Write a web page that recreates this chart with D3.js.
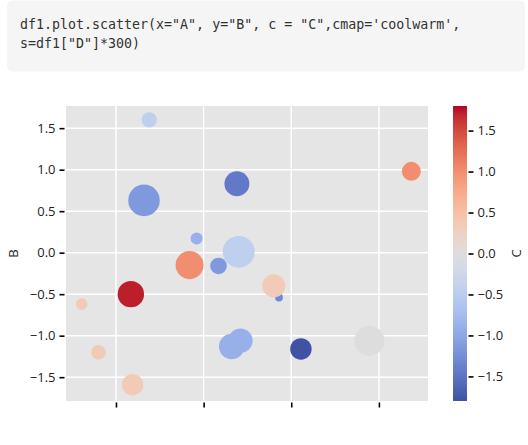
<!DOCTYPE html>
<html>
<head>
<meta charset="utf-8">
<script src="https://cdn.jsdelivr.net/npm/d3@7"></script>
<style>
  html, body { margin: 0; padding: 0; background: #fff; }
  svg { display: block; }
</style>
</head>
<body>
<svg id="fig" width="528" height="445"></svg>
<script>
// Code cell that produced the figure
const codeLines = [
  'df1.plot.scatter(x="A", y="B", c = "C",cmap=\'coolwarm\',',
  's=df1["D"]*300)'
];

// Columns of df1
const colA = [-0.62, -0.68, 0.38, -0.08, 0.40, -0.16, 0.17, -0.83, -1.39, -1.20, -0.81, 0.32, 0.42, 0.86, 0.80, 1.11, 1.89, 2.37];
const colB = [1.60, 0.63, 0.83, 0.17, 0.01, -0.15, -0.16, -0.50, -0.62, -1.20, -1.59, -1.13, -1.06, -0.54, -0.40, -1.16, -1.06, 0.98];
const colC = [-0.45, -1.15, -1.45, -0.90, -0.45, 1.00, -1.15, 1.72, 0.35, 0.35, 0.35, -0.90, -0.90, -1.30, 0.35, -1.80, 0.00, 1.00];
const colD = [0.23, 0.97, 0.61, 0.14, 0.99, 0.77, 0.27, 0.68, 0.13, 0.21, 0.45, 0.63, 0.58, 0.06, 0.52, 0.45, 0.88, 0.35];

const yTicks = [-1.5, -1.0, -0.5, 0.0, 0.5, 1.0, 1.5];
const xTicks = [-1, 0, 1, 2];
const cTicks = [-1.5, -1.0, -0.5, 0.0, 0.5, 1.0, 1.5];

// 'coolwarm' control colours, evenly spaced on [0, 1]
const coolwarm = [
  [59,76,192],[68,90,204],[77,104,215],[87,117,225],[98,130,234],[108,142,241],
  [119,154,247],[130,165,251],[141,176,254],[152,185,255],[163,194,255],[174,201,253],
  [184,208,249],[194,213,244],[204,217,238],[213,219,230],[221,221,221],[229,216,209],
  [236,211,197],[241,204,184],[245,196,172],[247,187,160],[247,177,148],[247,166,135],
  [244,154,123],[241,141,111],[236,127,99],[229,112,88],[222,96,77],[213,80,66],
  [203,62,56],[192,40,47],[180,4,38]
];
// the cool half is shown with softer chroma
const cmapColors = coolwarm.map(c => {
  const lab = d3.lab(d3.rgb(c[0], c[1], c[2]));
  if (lab.b < 0) { lab.a *= 0.55; lab.b *= 0.74; }
  return d3.rgb(lab).formatHex();
});
const cmap = d3.scaleLinear()
  .domain(cmapColors.map((_, i) => i / (cmapColors.length - 1)))
  .range(cmapColors)
  .interpolate(d3.interpolateRgb)
  .clamp(true);

const svg = d3.select('#fig');

// ---- code cell ----
svg.append('rect')
  .attr('x', 7).attr('y', 0.5).attr('width', 518).attr('height', 71)
  .attr('rx', 6).attr('fill', '#f5f5f5');
svg.append('g').selectAll('text').data(codeLines).join('text')
  .attr('x', 20)
  .attr('y', (d, i) => 29 + i * 19)
  .attr('font-family', '"DejaVu Sans Mono", monospace')
  .attr('font-size', 13.3)
  .attr('fill', '#333')
  .attr('xml:space', 'preserve')
  .text(d => d);

// ---- scatter axes ----
const plot = { left: 66, right: 428, top: 106, bottom: 401 };
const x = d3.scaleLinear().domain([-1.57, 2.56]).range([plot.left, plot.right]);
const y = d3.scaleLinear().domain([-1.787, 1.767]).range([plot.bottom, plot.top]);
const cMin = -1.80, cMax = 1.80;
const cNorm = d3.scaleLinear().domain([cMin, cMax]).range([0, 1]);
const r = d3.scaleSqrt().domain([0, 1]).range([0, 16]);

const fontUI = '"Open Sans", "Noto Sans", sans-serif';

svg.append('rect')
  .attr('x', plot.left).attr('y', plot.top)
  .attr('width', plot.right - plot.left).attr('height', plot.bottom - plot.top)
  .attr('fill', '#e5e5e5');

// grid
const grid = svg.append('g').attr('stroke', '#fff').attr('stroke-width', 1.5);
grid.selectAll('.gx').data(xTicks).join('line')
  .attr('x1', d => x(d)).attr('x2', d => x(d))
  .attr('y1', plot.top).attr('y2', plot.bottom);
grid.selectAll('.gy').data(yTicks).join('line')
  .attr('x1', plot.left).attr('x2', plot.right)
  .attr('y1', d => y(d)).attr('y2', d => y(d));

// points
const pts = d3.range(colA.length);
svg.append('g').selectAll('circle').data(pts).join('circle')
  .attr('cx', i => x(colA[i]))
  .attr('cy', i => y(colB[i]))
  .attr('r', i => r(colD[i]))
  .attr('fill', i => cmap(cNorm(colC[i])));

// y axis
const yAxis = d3.axisLeft(y).tickValues(yTicks).tickFormat(d3.format('.1f'))
  .tickSize(5).tickPadding(4);
const gy = svg.append('g').attr('transform', `translate(${plot.left - 1.5},0)`).call(yAxis);
gy.select('.domain').remove();
gy.selectAll('.tick line').attr('stroke', '#000').attr('stroke-width', 1.6);
gy.selectAll('.tick text').attr('font-family', fontUI).attr('font-size', 13).attr('fill', '#222');

// x axis: ticks only
const xAxis = d3.axisBottom(x).tickValues(xTicks).tickFormat('').tickSize(5);
const gx = svg.append('g').attr('transform', `translate(0,${plot.bottom + 1.5})`).call(xAxis);
gx.select('.domain').remove();
gx.selectAll('.tick line').attr('stroke', '#000').attr('stroke-width', 1.6);

svg.append('text')
  .attr('transform', `translate(18,${(plot.top + plot.bottom) / 2}) rotate(-90)`)
  .attr('text-anchor', 'middle')
  .attr('font-family', fontUI).attr('font-size', 13).attr('fill', '#222')
  .text('B');

// ---- colorbar ----
const cb = { left: 453, width: 14, top: 106, bottom: 401 };
const defs = svg.append('defs');
const grad = defs.append('linearGradient').attr('id', 'cbgrad')
  .attr('x1', 0).attr('y1', 1).attr('x2', 0).attr('y2', 0);
grad.selectAll('stop').data(cmapColors).join('stop')
  .attr('offset', (d, i) => i / (cmapColors.length - 1))
  .attr('stop-color', d => d);
svg.append('rect')
  .attr('x', cb.left).attr('y', cb.top).attr('width', cb.width).attr('height', cb.bottom - cb.top)
  .attr('fill', 'url(#cbgrad)');

const cScale = d3.scaleLinear().domain([cMin, cMax]).range([cb.bottom, cb.top]);
const cAxis = d3.axisRight(cScale).tickValues(cTicks).tickFormat(d3.format('.1f'))
  .tickSize(5).tickPadding(4);
const gc = svg.append('g').attr('transform', `translate(${cb.left + cb.width + 1.5},0)`).call(cAxis);
gc.select('.domain').remove();
gc.selectAll('.tick line').attr('stroke', '#000').attr('stroke-width', 1.6);
gc.selectAll('.tick text').attr('font-family', fontUI).attr('font-size', 13).attr('fill', '#222');

svg.append('text')
  .attr('transform', `translate(521,${(cb.top + cb.bottom) / 2}) rotate(-90)`)
  .attr('text-anchor', 'middle')
  .attr('font-family', fontUI).attr('font-size', 13).attr('fill', '#222')
  .text('C');
</script>
</body>
</html>
